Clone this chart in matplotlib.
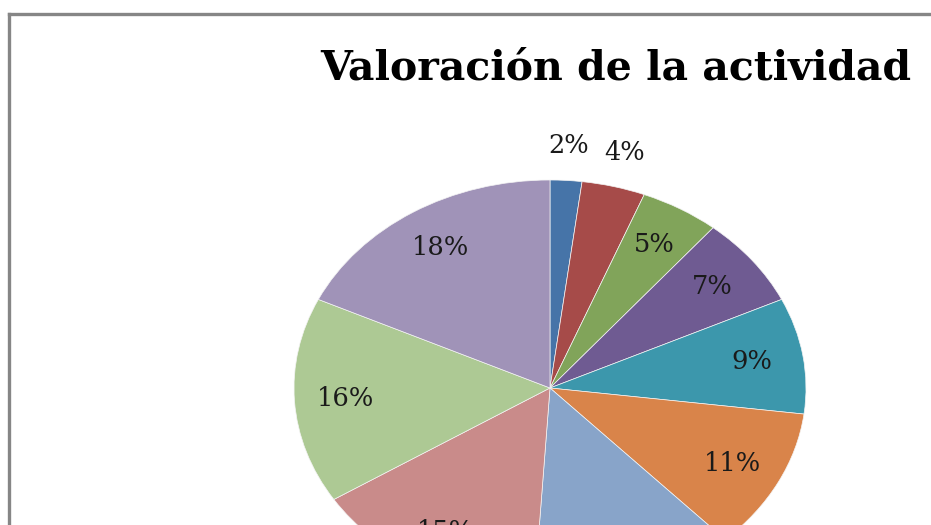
import matplotlib
matplotlib.use("Agg")
import matplotlib.pyplot as plt
from matplotlib.lines import Line2D
import numpy as np

title = "Valoración de la actividad"
values = [2, 4, 5, 7, 9, 11, 13, 15, 16, 18]
labels = ["2%", "4%", "5%", "7%", "9%", "11%", "13%", "15%", "16%", "18%"]
colors = ["#4674A8", "#A64B49", "#81A45A", "#6F5B92", "#3C97AC",
          "#D9844A", "#88A4C9", "#C98B8A", "#ADC994", "#A093B8"]

W, H = 931, 525
fig = plt.figure(figsize=(W / 100, H / 100), dpi=100)
fig.patch.set_facecolor("white")

# pie centre and radii in pixels (picture is stretched horizontally)
cx, cy, rx, ry = 550, 388, 256, 208
ax = fig.add_axes([0, 0, 1, 1])
wedges, _ = ax.pie(values, colors=colors, startangle=90, counterclock=False,
                   wedgeprops=dict(linewidth=0.5, edgecolor="#f4f4f4"))
ax.set_aspect("auto")
ax.set_xlim(-cx / rx, (W - cx) / rx)
ax.set_ylim(-(H - cy) / ry, cy / ry)
ax.axis("off")

# percentage labels
start = 90.0
total = sum(values)
for i, (v, lab) in enumerate(zip(values, labels)):
    mid = start - 360.0 * (sum(values[:i]) + v / 2) / total
    r = 1.17 if v <= 4 else 0.80
    x, y = r * np.cos(np.radians(mid)), r * np.sin(np.radians(mid))
    ax.text(x, y, lab, ha="center", va="center", fontsize=18.5,
            family="DejaVu Serif", color="#1a1a1a")

fig.text(616 / W, 1 - 69 / H, title, ha="center", va="center",
         fontsize=29.5, fontweight="bold", family="DejaVu Serif")

# chart area border (top and left visible)
fig.add_artist(Line2D([9 / W, 1.01], [1 - 14 / H, 1 - 14 / H],
                      transform=fig.transFigure, color="#868686", lw=2.4))
fig.add_artist(Line2D([9 / W, 9 / W], [1 - 14 / H, -0.01],
                      transform=fig.transFigure, color="#868686", lw=2.4))

fig.savefig("out.png", dpi=100)
